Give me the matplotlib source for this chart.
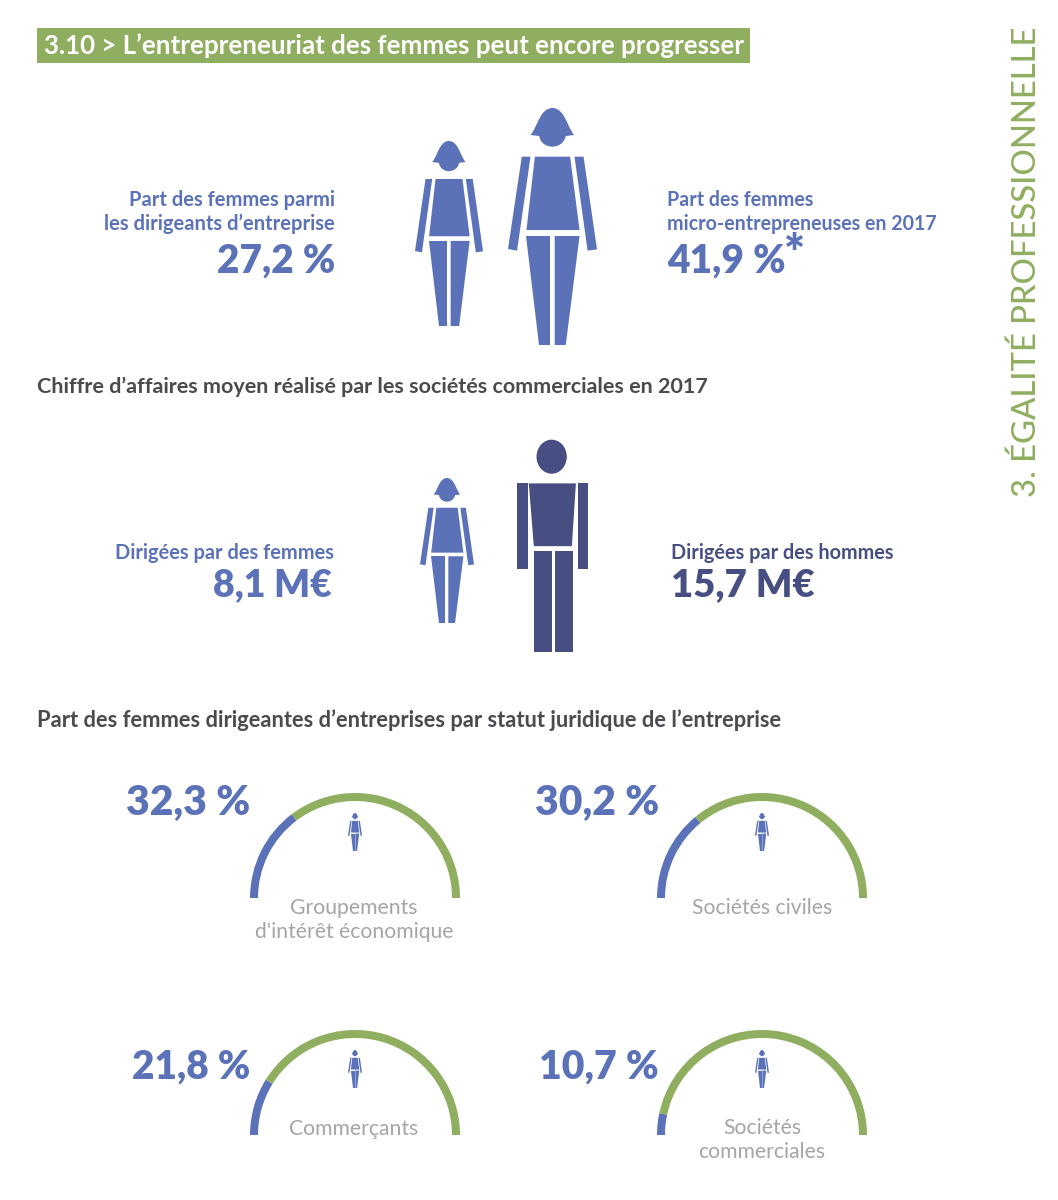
import matplotlib
matplotlib.use("Agg")
import matplotlib.pyplot as plt
from matplotlib.patches import Polygon, Ellipse, Wedge, Rectangle, PathPatch
from matplotlib.path import Path

plt.rcParams['font.family'] = ['Lato', 'DejaVu Sans']

BLUE = '#5b72b8'
NAVY = '#474f82'
GREEN = '#90ae60'
DARK = '#4a4a4f'
GREY = '#a3a5a8'

title = "3.10 > L’entrepreneuriat des femmes peut encore progresser"
side_title = "3. ÉGALITÉ PROFESSIONNELLE"
heading_revenue = "Chiffre d’affaires moyen réalisé par les sociétés commerciales en 2017"
heading_status = "Part des femmes dirigeantes d’entreprises par statut juridique de l’entreprise"

share_labels = ["Part des femmes parmi\nles dirigeants d’entreprise", "Part des femmes\nmicro-entrepreneuses en 2017"]
share_values = ["27,2 %", "41,9 %"]
revenue_labels = ["Dirigées par des femmes", "Dirigées par des hommes"]
revenue_values = ["8,1 M€", "15,7 M€"]

statuses = ["Groupements\nd'intérêt économique", "Sociétés civiles", "Commerçants", "Sociétés\ncommerciales"]
status_share = [32.3, 30.2, 21.8, 10.7]
# the blue arcs in the source stop a little short of the printed figures
arc_share = [29.4, 28.1, 17.7, 6.7]

# pictogram outlines, traced from the source and scaled when placed
WOMAN = [
    [(405, 170), (510, 170), (538, 390), (380, 390)],
    [(366, 170), (392, 170), (352, 452), (325, 447)],
    [(523, 170), (550, 170), (590, 448), (562, 452)],
    [(380, 408), (449, 408), (449, 735), (417, 735)],
    [(464, 408), (538, 408), (497, 735), (464, 735)],
]
WOMAN_BOX = (325, 590, 24, 735)
MAN = [
    [(387, 160), (527, 160), (515, 348), (402, 348)],
    [(352, 160), (384, 160), (384, 415), (352, 415)],
    [(532, 160), (563, 160), (563, 415), (532, 415)],
    [(402, 362), (456, 362), (456, 665), (402, 665)],
    [(466, 362), (519, 362), (519, 665), (466, 665)],
]
MAN_BOX = (352, 563, 30, 665)

fig = plt.figure(figsize=(10.58, 12), dpi=100)
ax = fig.add_axes([0, 0, 1, 1])
ax.set_xlim(0, 1058)
ax.set_ylim(1200, 0)
ax.axis('off')


def draw_figure(box, parts, left, right, top, bottom, color, head):
    x0, x1, y0, y1 = box
    sx = (right - left) / (x1 - x0)
    sy = (bottom - top) / (y1 - y0)
    tr = lambda p: (left + (p[0] - x0) * sx, top + (p[1] - y0) * sy)
    for part in parts:
        ax.add_patch(Polygon([tr(p) for p in part], closed=True, fc=color, ec='none'))
    if head == 'woman':
        verts = [(392, 105), (405, 90), (412, 65), (424, 46), (434, 30), (446, 24), (457, 24),
                 (468, 24), (480, 30), (490, 46), (502, 65), (509, 90), (522, 105),
                 (497, 108), (492, 132), (472, 140), (457, 140), (442, 140), (422, 132), (418, 108),
                 (392, 105)]
        codes = [Path.MOVETO] + [Path.CURVE4] * 12 + [Path.LINETO] + [Path.CURVE4] * 6 + [Path.CLOSEPOLY]
        ax.add_patch(PathPatch(Path([tr(v) for v in verts], codes), fc=color, ec='none'))
    else:
        cx, cy = tr((455, 80))
        ax.add_patch(Ellipse((cx, cy), 90 * sx, 102 * sy, fc=color, ec='none'))


def draw_gauge(cx, cy, share):
    # y axis is flipped, so angles run clockwise from the left end
    split = 180 + 180 * share / 100
    ax.add_patch(Wedge((cx, cy), 105, 180, split, width=8, fc=BLUE, ec='none'))
    ax.add_patch(Wedge((cx, cy), 105, split, 360, width=8, fc=GREEN, ec='none'))
    draw_figure(WOMAN_BOX, WOMAN, cx - 7, cx + 7, cy - 85, cy - 47, BLUE, 'woman')


# header
ax.add_patch(Rectangle((37, 28), 713, 35, fc=GREEN, ec='none'))
ax.text(44, 46, title, color='white', fontsize=18.65, fontweight='bold', va='center', ha='left')
ax.text(1027, 262, side_title, color=GREEN, fontsize=23.7, fontweight='medium', rotation=90, va='center', ha='center')

# top block
ax.text(335, 212, share_labels[0], color=BLUE, fontsize=14.5, fontweight='bold', ha='right', va='center', linespacing=1.22)
ax.text(335, 261, share_values[0], color=BLUE, fontsize=28, fontweight='heavy', ha='right', va='center')
ax.text(667, 212, share_labels[1], color=BLUE, fontsize=14.1, fontweight='bold', ha='left', va='center', linespacing=1.25)
ax.text(667, 261, share_values[1], color=BLUE, fontsize=28, fontweight='heavy', ha='left', va='center')
ax.text(784, 255, "*", color=BLUE, fontsize=36, fontweight='heavy', ha='left', va='center')
draw_figure(WOMAN_BOX, WOMAN, 415, 483, 141, 326, BLUE, 'woman')
draw_figure(WOMAN_BOX, WOMAN, 508, 597, 108, 345, BLUE, 'woman')

# revenue block
ax.text(37, 387, heading_revenue, color=DARK, fontsize=15.47, fontweight='bold', ha='left', va='center')
ax.text(334, 553, revenue_labels[0], color=BLUE, fontsize=14.4, fontweight='bold', ha='right', va='center')
ax.text(332, 585, revenue_values[0], color=BLUE, fontsize=27, fontweight='heavy', ha='right', va='center')
ax.text(671, 553, revenue_labels[1], color=NAVY, fontsize=14.3, fontweight='bold', ha='left', va='center')
ax.text(671, 585, revenue_values[1], color=NAVY, fontsize=27.5, fontweight='heavy', ha='left', va='center')
draw_figure(WOMAN_BOX, WOMAN, 420, 474, 478, 623, BLUE, 'woman')
draw_figure(MAN_BOX, MAN, 517, 588, 440, 652, NAVY, 'man')

# status block
ax.text(37, 720, heading_status, color=DARK, fontsize=15.75, fontweight='bold', ha='left', va='center')
gauge_x = [355, 762, 355, 762]
gauge_y = [898, 898, 1135, 1135]
value_x = [250, 659, 250, 659]
value_y = [803, 803, 1067, 1067]
value_size = [29.3, 29.3, 28, 28.3]
label_y = [920, 908, 1129, 1140]
for i, name in enumerate(statuses):
    draw_gauge(gauge_x[i], gauge_y[i], arc_share[i])
    ax.text(value_x[i], value_y[i], f"{status_share[i]:.1f} %".replace('.', ','), color=BLUE,
            fontsize=value_size[i], fontweight='heavy', ha='right', va='center')
    ax.text(gauge_x[i] - 1 + (1 if i % 2 else 0), label_y[i], name, color=GREY, fontsize=15.2,
            ha='center', va='center', linespacing=1.3)

fig.savefig('out.png', dpi=100)
